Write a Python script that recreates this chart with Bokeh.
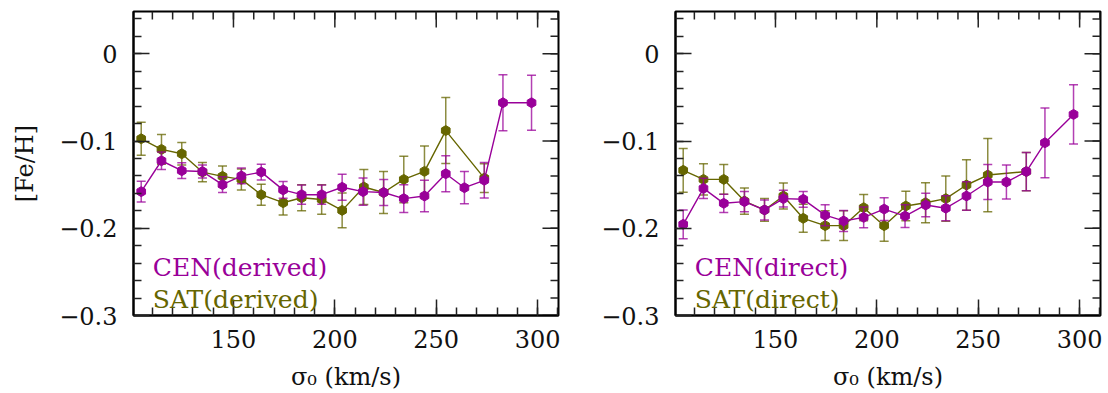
from bokeh.plotting import figure
from bokeh.layouts import row
from bokeh.models import Label, FixedTicker, Range1d
from bokeh.embed import file_html
from bokeh.resources import INLINE
import numpy as np

# ---- data ----
sigma_cen = [104.5, 114.5, 124.5, 134.7, 144.6, 153.9, 163.7, 174.5, 183.6, 193.5,
             203.6, 213.9, 224.1, 234.0, 244.2, 254.7, 263.9, 273.7, 282.9, 297.0]
sigma_sat = [104.5, 114.5, 124.5, 134.7, 144.6, 153.9, 163.7, 174.5, 183.6, 193.5,
             203.6, 214.3, 224.0, 234.0, 244.2, 254.7, 273.7]

cen_derived = [-0.158, -0.1226, -0.134, -0.135, -0.150, -0.140, -0.1356, -0.156, -0.1615, -0.1615,
               -0.153, -0.158, -0.159, -0.166, -0.163, -0.1375, -0.1535, -0.145, -0.0561, -0.0561]
cen_derived_err = [0.012, 0.010, 0.009, 0.0075, 0.009, 0.009, 0.009, 0.0095, 0.011, 0.011,
                   0.015, 0.0157, 0.015, 0.016, 0.018, 0.0206, 0.0185, 0.0204, 0.032, 0.0315]
sat_derived = [-0.0974, -0.1096, -0.1146, -0.1356, -0.1405, -0.144, -0.1615, -0.1707, -0.165, -0.167,
               -0.1795, -0.1527, -0.159, -0.144, -0.1348, -0.088, -0.1425]
sat_derived_err = [0.019, 0.017, 0.013, 0.011, 0.012, 0.012, 0.012, 0.014, 0.015, 0.017,
                   0.020, 0.020, 0.024, 0.0267, 0.029, 0.0378, 0.0164]

cen_direct = [-0.1955, -0.1543, -0.1714, -0.1695, -0.179, -0.166, -0.1668, -0.185, -0.1916, -0.1875,
              -0.178, -0.186, -0.1733, -0.177, -0.163, -0.147, -0.147, -0.135, -0.102, -0.0695]
cen_direct_err = [0.0164, 0.0115, 0.0105, 0.0116, 0.0115, 0.0095, 0.009, 0.012, 0.012, 0.012,
                  0.013, 0.013, 0.0134, 0.0143, 0.0164, 0.020, 0.0195, 0.022, 0.040, 0.034]
sat_direct = [-0.1336, -0.144, -0.144, -0.1688, -0.179, -0.163, -0.1886, -0.197, -0.197, -0.1764,
              -0.197, -0.1745, -0.1707, -0.166, -0.1504, -0.139, -0.135]
sat_direct_err = [0.025, 0.018, 0.017, 0.015, 0.013, 0.015, 0.016, 0.017, 0.017, 0.015,
                  0.018, 0.017, 0.023, 0.026, 0.029, 0.042, 0.022]

x_major = [150, 200, 250, 300]
x_minor = list(range(110, 311, 10))
y_major = [-0.3, -0.2, -0.1, 0.0]
y_minor = [round(v, 2) for v in np.arange(-0.28, 0.05, 0.02)]
y_tick_labels = {-0.3: "\u22120.3", -0.2: "\u22120.2", -0.1: "\u22120.1", 0.0: "0"}

X_RANGE = (100.7, 310.3)
Y_RANGE = (-0.3, 0.0485)

CEN_COLOR = "#990099"
SAT_COLOR = "#666600"
TICK_COLOR = "#222222"
FONT = "DejaVu Serif"
FS = "24px"


def style_axis(ax, ticker):
    ax.ticker = ticker
    ax.axis_line_width = 2
    ax.axis_line_color = "black"
    ax.major_tick_in = 16
    ax.major_tick_out = 0
    ax.minor_tick_in = 8
    ax.minor_tick_out = 0
    ax.major_tick_line_width = 1.5
    ax.minor_tick_line_width = 1.5
    ax.major_tick_line_color = TICK_COLOR
    ax.minor_tick_line_color = TICK_COLOR
    ax.major_label_text_font = FONT
    ax.major_label_text_font_size = FS
    ax.major_label_text_color = "#111111"
    ax.major_label_standoff = 14
    ax.axis_label_text_font = FONT
    ax.axis_label_text_font_size = FS
    ax.axis_label_text_font_style = "normal"
    ax.axis_label_text_color = "#111111"


def mirror_ticks(p):
    # ticks on the top and right frame edges, pointing inwards
    ytop = [Y_RANGE[1]] * len(x_major)
    p.ray(x_major, ytop, length=16, length_units="screen", angle=-np.pi / 2,
          line_color=TICK_COLOR, line_width=1.5)
    p.ray(x_minor, [Y_RANGE[1]] * len(x_minor), length=8, length_units="screen",
          angle=-np.pi / 2, line_color=TICK_COLOR, line_width=1.5)
    p.ray([X_RANGE[1]] * len(y_major), y_major, length=16, length_units="screen",
          angle=np.pi, line_color=TICK_COLOR, line_width=1.5)
    p.ray([X_RANGE[1]] * len(y_minor), y_minor, length=8, length_units="screen",
          angle=np.pi, line_color=TICK_COLOR, line_width=1.5)


def series(p, xs, ys, errs, color, marker):
    xs = np.array(xs)
    ys = np.array(ys)
    errs = np.array(errs)
    p.segment(xs, ys - errs, xs, ys + errs, line_color=color, line_width=1.5, line_alpha=0.75)
    p.scatter(xs, ys - errs, marker="dash", size=9, line_color=color, line_width=1.5, line_alpha=0.75)
    p.scatter(xs, ys + errs, marker="dash", size=9, line_color=color, line_width=1.5, line_alpha=0.75)
    p.line(xs, ys, line_color=color, line_width=1.4)
    p.scatter(xs, ys, marker=marker, size=10, angle=np.pi / 2, fill_color=color, line_color=color)


def panel(cen, cen_err, sat, sat_err, cen_txt, sat_txt, ylabel, border_left, border_right):
    p = figure(frame_width=425, frame_height=304,
               x_range=Range1d(*X_RANGE), y_range=Range1d(*Y_RANGE),
               output_backend="svg", toolbar_location=None,
               min_border_left=border_left, min_border_right=border_right,
               min_border_top=11, min_border_bottom=70)
    p.grid.visible = False
    p.outline_line_color = "black"
    p.outline_line_width = 2
    p.background_fill_color = "white"
    p.border_fill_color = "white"

    xt = FixedTicker(ticks=x_major, minor_ticks=x_minor)
    yt = FixedTicker(ticks=y_major, minor_ticks=y_minor)

    style_axis(p.xaxis[0], xt)
    p.xaxis[0].axis_label = "\u03c3\u2080 (km/s)"
    p.xaxis[0].axis_label_standoff = 12
    style_axis(p.yaxis[0], yt)
    p.yaxis[0].major_label_overrides = y_tick_labels
    p.yaxis[0].major_label_standoff = 16
    if ylabel:
        p.yaxis[0].axis_label = ylabel
        p.yaxis[0].axis_label_standoff = 17

    mirror_ticks(p)

    series(p, sigma_sat, sat, sat_err, SAT_COLOR, "hex")
    series(p, sigma_cen, cen, cen_err, CEN_COLOR, "hex")

    p.add_layout(Label(x=110.2, y=-0.2447, text=cen_txt, text_color=CEN_COLOR,
                       text_font=FONT, text_font_size="25px", text_baseline="alphabetic"))
    p.add_layout(Label(x=110.2, y=-0.2813, text=sat_txt, text_color=SAT_COLOR,
                       text_font=FONT, text_font_size="25px", text_baseline="alphabetic"))
    return p


p1 = panel(cen_derived, cen_derived_err, sat_derived, sat_derived_err,
           "CEN(derived)", "SAT(derived)", "[Fe/H]", 133, 40)
p2 = panel(cen_direct, cen_direct_err, sat_direct, sat_direct_err,
           "CEN(direct)", "SAT(direct)", None, 76, 4)

layout = row(p1, p2)
open("out.html", "w").write(file_html(layout, INLINE))
